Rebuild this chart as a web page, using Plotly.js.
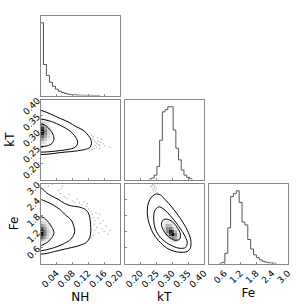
<!DOCTYPE html>
<html><head><meta charset="utf-8">
<script src="https://cdn.plot.ly/plotly-3.0.1.min.js"></script>
<style>html,body{margin:0;padding:0;background:#fff}#plot{width:304px;height:304px}</style>
</head><body><div id="plot"></div>
<script>
// ---------- data ----------
const paramNames = ["NH", "kT", "Fe"];
const nhRange = [0, 0.2], ktRange = [0.15, 0.40], feRange = [0, 3.0];
const nhTicks = [0.04, 0.08, 0.12, 0.16, 0.20];
const nhTickText = ["0.04", "0.08", "0.12", "0.16", "0.20"];
const ktTicks = [0.20, 0.25, 0.30, 0.35, 0.40];
const ktTickText = ["0.20", "0.25", "0.30", "0.35", "0.40"];
const feTicks = [0.6, 1.2, 1.8, 2.4, 3.0];
const feTickText = ["0.6", "1.2", "1.8", "2.4", "3.0"];

// 1D histograms (relative counts, bin start and width)
const nhBinStart = 0, nhBinWidth = 0.0075;
const nhCounts = [1.0, 0.426, 0.275, 0.183, 0.128, 0.087, 0.060, 0.041, 0.028, 0.018, 0.012, 0.009, 0.006, 0.004, 0.003, 0.002, 0.002, 0.001, 0.001, 0.001];
const ktBinStart = 0.2265, ktBinWidth = 0.0085;
const ktCounts = [0.005, 0.02, 0.06, 0.18, 0.54, 0.93, 0.96, 1.0, 1.0, 0.68, 0.43, 0.27, 0.13, 0.06, 0.03, 0.01];
const feBinStart = 0.402, feBinWidth = 0.108;
const feCounts = [0.003, 0.015, 0.14, 0.49, 0.92, 0.96, 1.0, 0.84, 0.57, 0.53, 0.33, 0.20, 0.12, 0.08, 0.05, 0.03, 0.018, 0.01, 0.005, 0.003];

// 2D density cores
const densA_nh = [0.00375, 0.01125, 0.01875, 0.02625, 0.03375, 0.04125];
const densA_kt = [0.2575, 0.266, 0.2745, 0.283, 0.2915, 0.300, 0.3085, 0.317, 0.3255, 0.334];
const densA_z = [
  [0.05,0.03,0.01,0,0,0],
  [0.15,0.08,0.03,0.01,0,0],
  [0.35,0.2,0.08,0.03,0.01,0],
  [0.6,0.35,0.15,0.05,0.02,0.01],
  [0.85,0.45,0.2,0.07,0.03,0.01],
  [1.0,0.5,0.2,0.08,0.03,0.01],
  [0.8,0.4,0.15,0.06,0.02,0.01],
  [0.5,0.25,0.1,0.04,0.01,0],
  [0.25,0.12,0.05,0.02,0,0],
  [0.1,0.05,0.02,0,0,0]];
const densB_nh = [0.00375, 0.01125, 0.01875, 0.02625, 0.03375, 0.04125];
const densB_fe = [0.78, 0.88, 0.99, 1.10, 1.21, 1.32, 1.43, 1.54, 1.65];
const densB_z = [
  [0.1,0.05,0.02,0,0,0],
  [0.3,0.15,0.06,0.02,0,0],
  [0.6,0.35,0.12,0.04,0.01,0],
  [0.9,0.5,0.18,0.06,0.02,0],
  [1.0,0.5,0.2,0.07,0.02,0],
  [0.7,0.4,0.15,0.05,0.01,0],
  [0.4,0.25,0.1,0.03,0,0],
  [0.2,0.12,0.05,0.01,0,0],
  [0.08,0.05,0.02,0,0,0]];
const densC_kt = [0.2775, 0.286, 0.2945, 0.303, 0.3115, 0.32];
const densC_fe = [0.88, 0.99, 1.10, 1.21, 1.32, 1.43, 1.54];
const densC_z = [
  [0,0.02,0.08,0.15,0.2,0.1],
  [0.02,0.1,0.3,0.45,0.35,0.12],
  [0.08,0.3,0.7,1.0,0.5,0.12],
  [0.15,0.45,0.85,0.7,0.3,0.05],
  [0.2,0.45,0.5,0.3,0.1,0.02],
  [0.15,0.3,0.25,0.1,0.03,0],
  [0.08,0.12,0.08,0.03,0,0]];

// contour lines (outer, middle, inner)
const contA_outer_nh = [0, 0.0186, 0.0439, 0.0692, 0.0903, 0.1072, 0.1198, 0.1266, 0.1283, 0.1241, 0.1114, 0.0861, 0.0523, 0.0186, 0];
const contA_outer_kt = [0.3667, 0.3583, 0.3438, 0.3302, 0.3146, 0.3042, 0.2885, 0.275, 0.2625, 0.25, 0.2438, 0.2385, 0.2344, 0.2292, 0.2281];
const contA_mid_nh = [0, 0.027, 0.0523, 0.0734, 0.0861, 0.0929, 0.0929, 0.0861, 0.0692, 0.0439, 0.0186, 0];
const contA_mid_kt = [0.3396, 0.3313, 0.3177, 0.3021, 0.2865, 0.2708, 0.2604, 0.25, 0.2438, 0.2396, 0.2365, 0.2354];
const contA_in_nh = [0, 0.0101, 0.0228, 0.0312, 0.0338, 0.0287, 0.0169, 0];
const contA_in_kt = [0.3240, 0.3208, 0.3073, 0.2917, 0.276, 0.2625, 0.2552, 0.2531];

const contB_outer_nh = [0, 0.0059, 0.0143, 0.027, 0.0439, 0.0608, 0.0776, 0.0945, 0.1114, 0.1198, 0.1241, 0.1258, 0.1266, 0.1241, 0.1156, 0.0945, 0.0608, 0.0354, 0.0143, 0];
const contB_outer_fe = [2.85, 2.79, 2.66, 2.54, 2.41, 2.25, 2.16, 2.125, 2.04, 1.91, 1.725, 1.475, 1.225, 0.975, 0.79, 0.66, 0.54, 0.45, 0.375, 0.35];
const contB_mid_nh = [0, 0.0143, 0.0312, 0.0481, 0.0608, 0.0776, 0.0835, 0.0861, 0.0835, 0.0734, 0.0565, 0.0354, 0.0143, 0];
const contB_mid_fe = [2.41, 2.325, 2.2, 2.0375, 1.85, 1.625, 1.4125, 1.225, 1.0625, 0.875, 0.725, 0.6, 0.5125, 0.475];
const contB_in_nh = [0, 0.0101, 0.0203, 0.0287, 0.0338, 0.0287, 0.0186, 0.0059, 0];
const contB_in_fe = [1.7625, 1.70, 1.5375, 1.35, 1.1625, 0.975, 0.8125, 0.70, 0.6625];

const contC_outer_kt = [0.2471, 0.2629, 0.2734, 0.2892, 0.3082, 0.3293, 0.3473, 0.3578, 0.3578, 0.3473, 0.3209, 0.2892, 0.2629, 0.2418, 0.2281, 0.2217, 0.2238, 0.2323, 0.2471];
const contC_outer_fe = [2.6, 2.575, 2.45, 2.25, 1.975, 1.625, 1.25, 0.9125, 0.6, 0.45, 0.425, 0.5375, 0.7875, 1.1, 1.475, 1.85, 2.2, 2.45, 2.6];
const contC_mid_kt = [0.2576, 0.2734, 0.2945, 0.3156, 0.3367, 0.3473, 0.342, 0.3209, 0.2892, 0.2629, 0.2471, 0.2418, 0.2449, 0.2576];
const contC_mid_fe = [2.125, 2.0375, 1.7875, 1.475, 1.1, 0.7875, 0.6, 0.575, 0.725, 0.975, 1.2875, 1.6625, 1.975, 2.125];
const contC_in_kt = [0.284, 0.2998, 0.3156, 0.3262, 0.323, 0.3082, 0.2892, 0.2734, 0.266, 0.2724, 0.284];
const contC_in_fe = [1.6625, 1.575, 1.35, 1.1, 0.9125, 0.875, 1.0, 1.225, 1.475, 1.6375, 1.6625];

// outlier samples
const ptsA_nh = [0.131,0.135,0.137,0.141,0.145,0.149,0.141,0.135,0.149,0.158,0.175,0.154,0.133,0.139,0.144,0.130,0.152,0.128,0.146,0.162];
const ptsA_kt = [0.279,0.274,0.268,0.263,0.269,0.257,0.252,0.247,0.247,0.262,0.251,0.276,0.285,0.256,0.281,0.243,0.266,0.289,0.260,0.255];
const ptsB_nh = [0.045,0.05,0.055,0.06,0.066,0.072,0.08,0.086,0.092,0.098,0.105,0.11,0.115,0.122,0.128,0.13,0.133,0.138,0.14,0.135,0.142,0.137,0.146,0.15,0.155,0.16,0.165,0.175,0.132,0.128,0.145,0.03,0.02,0.052,0.118,0.148,0.158,0.17];
const ptsB_fe = [2.75,2.62,2.9,2.5,2.45,2.6,2.35,2.3,2.42,2.28,2.2,2.32,2.15,2.05,1.95,1.85,1.72,1.6,1.9,1.45,1.35,1.25,1.15,1.5,1.3,1.2,1.4,1.25,1.05,0.95,1.7,2.95,2.9,2.8,2.25,1.85,1.6,1.1];
const ptsC_kt = [0.236,0.240,0.244,0.238,0.246,0.242,0.248,0.233,0.250,0.241,0.252,0.239];
const ptsC_fe = [2.92,2.95,2.90,2.82,2.85,2.76,2.72,2.88,2.80,2.68,2.66,2.98];

// ---------- build ----------
function stepXY(start, width, counts) {
  const x = [start], y = [0];
  for (let i = 0; i < counts.length; i++) { x.push(start + i * width); y.push(counts[i]); }
  x.push(start + counts.length * width); y.push(0);
  return {x, y};
}
const traces = [];
function hist(start, width, counts, xa, ya) {
  const s = stepXY(start, width, counts);
  traces.push({type:'scatter', mode:'lines', x:s.x, y:s.y, xaxis:xa, yaxis:ya,
    line:{shape:'hv', color:'#555', width:1}, hoverinfo:'skip'});
}
function dens(x, y, z, xa, ya) {
  traces.push({type:'heatmap', x:x, y:y, z:z, xaxis:xa, yaxis:ya, zmin:0, zmax:1,
    colorscale:[[0,'rgba(255,255,255,0)'],[0.05,'#f4f4f4'],[1,'#000000']], showscale:false, hoverinfo:'skip'});
}
function pts(x, y, xa, ya) {
  traces.push({type:'scatter', mode:'markers', x:x, y:y, xaxis:xa, yaxis:ya,
    marker:{size:1.3, color:'rgba(60,60,60,0.45)', line:{width:0}}, hoverinfo:'skip'});
}
function cont(x, y, xa, ya) {
  traces.push({type:'scatter', mode:'lines', x:x, y:y, xaxis:xa, yaxis:ya,
    line:{color:'#000', width:1, shape:'spline', smoothing:0.9}, hoverinfo:'skip'});
}

hist(nhBinStart, nhBinWidth, nhCounts, 'x', 'y');
hist(ktBinStart, ktBinWidth, ktCounts, 'x3', 'y3');
hist(feBinStart, feBinWidth, feCounts, 'x6', 'y6');

pts(ptsA_nh, ptsA_kt, 'x2', 'y2');
dens(densA_nh, densA_kt, densA_z, 'x2', 'y2');
cont(contA_outer_nh, contA_outer_kt, 'x2', 'y2');
cont(contA_mid_nh, contA_mid_kt, 'x2', 'y2');
cont(contA_in_nh, contA_in_kt, 'x2', 'y2');

pts(ptsB_nh, ptsB_fe, 'x4', 'y4');
dens(densB_nh, densB_fe, densB_z, 'x4', 'y4');
cont(contB_outer_nh, contB_outer_fe, 'x4', 'y4');
cont(contB_mid_nh, contB_mid_fe, 'x4', 'y4');
cont(contB_in_nh, contB_in_fe, 'x4', 'y4');

pts(ptsC_kt, ptsC_fe, 'x5', 'y5');
dens(densC_kt, densC_fe, densC_z, 'x5', 'y5');
cont(contC_outer_kt, contC_outer_fe, 'x5', 'y5');
cont(contC_mid_kt, contC_mid_fe, 'x5', 'y5');
cont(contC_in_kt, contC_in_fe, 'x5', 'y5');

const W = 304;
const col = [[40.5/W, 120/W], [124.5/W, 204/W], [208.5/W, 288/W]];
const row = [[(W-95.5)/W, (W-15.5)/W], [(W-179.5)/W, (W-99.5)/W], [(W-263.5)/W, (W-183.5)/W]];
const tickFont = {family:'DejaVu Sans', size:9, color:'#000'};
const titleFont = {family:'DejaVu Sans', size:12, color:'#000'};
function ax(domain, range, anchor, tv, tt, showLabels, title, isHistY) {
  const a = {domain:domain, range:range, anchor:anchor, showline:true, mirror:true,
    linecolor:'#888', linewidth:1, showgrid:false, zeroline:false, fixedrange:true,
    tickfont:tickFont, tickangle:-45};
  if (isHistY) { a.ticks=''; a.showticklabels=false; }
  else { a.tickvals=tv; a.ticktext=tt; a.ticks='inside'; a.ticklen=2; a.tickcolor='#888';
         a.showticklabels=showLabels; }
  if (title) a.title = {text:title, font:titleFont, standoff:3};
  return a;
}
const layout = {
  width:304, height:304, margin:{l:0,r:0,t:0,b:0}, showlegend:false,
  paper_bgcolor:'#fff', plot_bgcolor:'#fff',
  xaxis:  ax(col[0], nhRange, 'y',  nhTicks, nhTickText, false),
  yaxis:  ax(row[0], [0,1.1], 'x',  null, null, false, null, true),
  xaxis2: ax(col[0], nhRange, 'y2', nhTicks, nhTickText, false),
  yaxis2: ax(row[1], ktRange, 'x2', ktTicks, ktTickText, true, paramNames[1]),
  xaxis3: ax(col[1], ktRange, 'y3', ktTicks, ktTickText, false),
  yaxis3: ax(row[1], [0,1.1], 'x3', null, null, false, null, true),
  xaxis4: ax(col[0], nhRange, 'y4', nhTicks, nhTickText, true, paramNames[0]),
  yaxis4: ax(row[2], feRange, 'x4', feTicks, feTickText, true, paramNames[2]),
  xaxis5: ax(col[1], ktRange, 'y5', ktTicks, ktTickText, true, paramNames[1]),
  yaxis5: ax(row[2], feRange, 'x5', feTicks, feTickText, false),
  xaxis6: ax(col[2], feRange, 'y6', feTicks, feTickText, true, paramNames[2]),
  yaxis6: ax(row[2], [0,1.1], 'x6', null, null, false, null, true)
};
Plotly.newPlot('plot', traces, layout, {staticPlot:true, displayModeBar:false});
</script></body></html>
